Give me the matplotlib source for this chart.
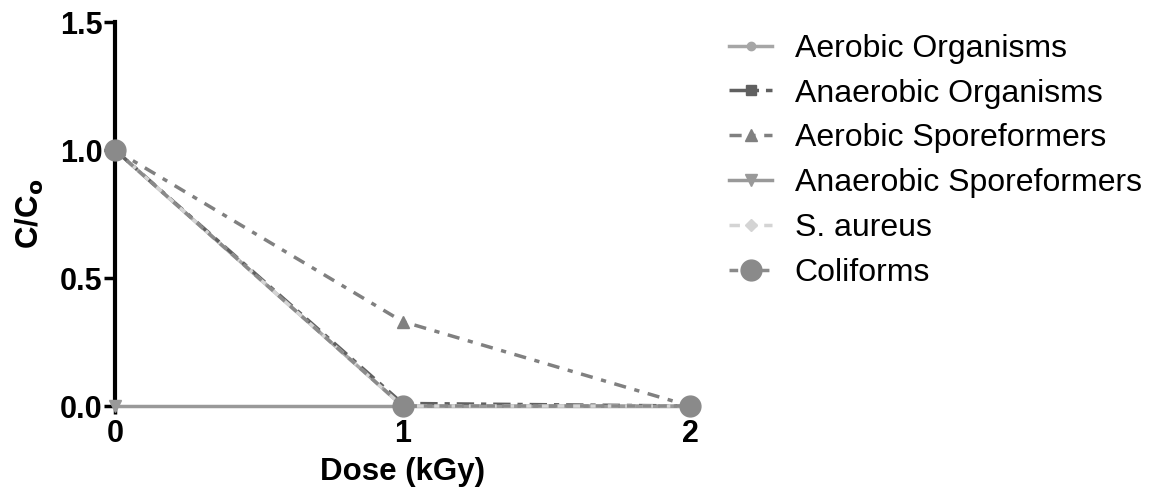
import numpy as np
import matplotlib.pyplot as plt

plt.rcParams['font.family'] = ['Liberation Sans', 'DejaVu Sans']

dose = [0, 1, 2]
aerobic_org = [1.0, 0.0, 0.0]
anaerobic_org = [1.0, 0.01, 0.0]
aerobic_spore = [1.0, 0.33, 0.0]
anaerobic_spore = [0.0, 0.0, 0.0]
s_aureus = [1.0, 0.0, 0.0]
coliforms = [1.0, 0.0, 0.0]

labels = ['Aerobic Organisms', 'Anaerobic Organisms', 'Aerobic Sporeformers',
          'Anaerobic Sporeformers', 'S. aureus', 'Coliforms']

fig = plt.figure(figsize=(11.5, 5), dpi=100)
ax = fig.add_axes([0.1, 0.188, 0.5, 0.768])

ax.plot(dose, aerobic_org, color='#a6a6a6', lw=2.5, ls='-', marker='o', ms=6,
        label=labels[0], clip_on=False, zorder=3)
ax.plot(dose, anaerobic_org, color='#606060', lw=2.5, ls=(0, (5, 2, 1.5, 2)), marker='s', ms=7,
        label=labels[1], clip_on=False, zorder=3)
ax.plot(dose, aerobic_spore, color='#808080', lw=2.5, ls=(0, (3.5, 2.5, 1.5, 2.5)), marker='^', ms=8,
        label=labels[2], clip_on=False, zorder=3)
ax.plot(dose, anaerobic_spore, color='#999999', lw=2.5, ls='-', marker='v', ms=9,
        label=labels[3], clip_on=False, zorder=3)
ax.plot(dose, s_aureus, color='#d4d4d4', lw=2.5, ls=(0, (3, 2)), marker='D', ms=6,
        label=labels[4], clip_on=False, zorder=3)
ax.plot(dose, coliforms, color='#8a8a8a', lw=2.5, ls=(0, (2.5, 2)), marker='o', ms=15,
        label=labels[5], clip_on=False, zorder=4)

ax.set_xlim(0, 2)
ax.set_ylim(0, 1.5)
ax.set_xticks([0, 1, 2])
ax.set_yticks([0, 0.5, 1.0, 1.5])
ax.set_yticklabels(['0.0', '0.5', '1.0', '1.5'])
for s in ['top', 'right', 'bottom']:
    ax.spines[s].set_visible(False)
ax.spines['left'].set_linewidth(3)
ax.tick_params(axis='y', length=8, width=2.5, labelsize=22, pad=1)
ax.tick_params(axis='x', length=6, width=2.5, labelsize=22, pad=3)
for t in ax.get_xticklabels() + ax.get_yticklabels():
    t.set_fontweight('bold')

ax.set_xlabel('Dose (kGy)', fontsize=22.5, fontweight='bold', labelpad=6)
ax.set_ylabel('C/C$_\\mathbf{o}$', fontsize=22.5, fontweight='bold', labelpad=10)

fig.legend(loc='upper left', bbox_to_anchor=(0.609, 0.99), frameon=False,
           fontsize=23, handlelength=1.35, labelspacing=0.465, handletextpad=0.7)

plt.savefig('out.png')
